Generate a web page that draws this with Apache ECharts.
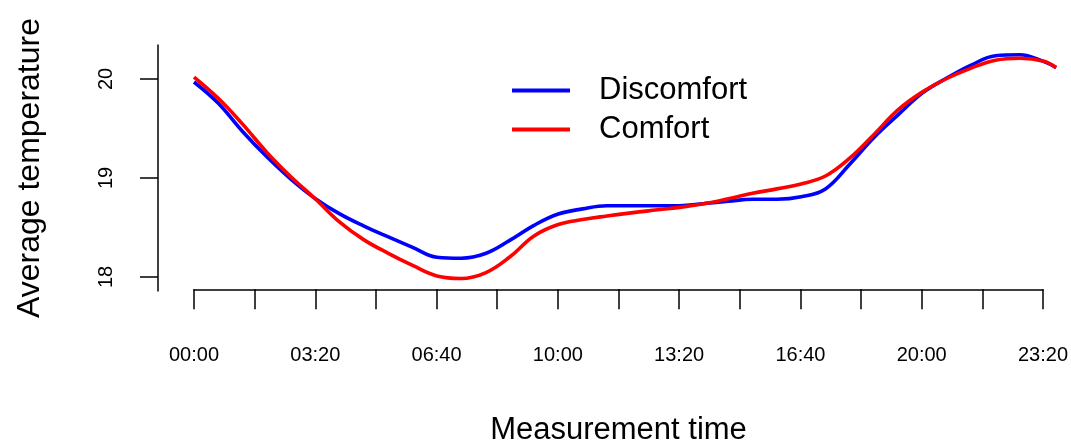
<!DOCTYPE html>
<html>
<head>
<meta charset="utf-8">
<script src="https://cdn.jsdelivr.net/npm/echarts@6/dist/echarts.min.js"></script>
<style>
  html, body { margin: 0; padding: 0; background: #fff; }
  #chart { width: 1071px; height: 445px; }
</style>
</head>
<body>
<div id="chart"></div>
<script>
// minutes since midnight
const times = [0, 40, 80, 120, 160, 200, 240, 280, 320, 360, 400, 440, 480, 520, 560, 600,
  640, 680, 720, 760, 800, 840, 880, 920, 960, 1000, 1040, 1080, 1120, 1160, 1200, 1240,
  1280, 1320, 1360, 1400, 1420]

const discomfort = [19.97, 19.755, 19.47, 19.214, 18.986, 18.791, 18.637, 18.514, 18.405, 18.30,
  18.20, 18.19, 18.237, 18.37, 18.522, 18.636, 18.688, 18.72, 18.72, 18.72, 18.72, 18.742,
  18.765, 18.785, 18.785, 18.81, 18.89, 19.14, 19.41, 19.64, 19.86, 20.01, 20.14, 20.235,
  20.245, 20.175, 20.115]

const comfort = [20.02, 19.805, 19.544, 19.259, 19.01, 18.788, 18.554, 18.375, 18.239, 18.117,
  18.01, 17.985, 18.042, 18.202, 18.415, 18.53, 18.58, 18.616, 18.648, 18.676, 18.703, 18.74,
  18.79, 18.845, 18.89, 18.94, 19.02, 19.20, 19.44, 19.69, 19.87, 20.005, 20.11, 20.19,
  20.21, 20.18, 20.115]

const xTicks = [0, 100, 200, 300, 400, 500, 600, 700, 800, 900, 1000, 1100, 1200, 1300, 1400]
const xLabels = [0, 200, 400, 600, 800, 1000, 1200, 1400]
const yTicks = [18, 19, 20]

const FONT = 'Liberation Sans, Arial, sans-serif'

function hhmm(m) {
  const h = Math.floor(m / 60)
  const mm = m % 60
  return String(h).padStart(2, '0') + ':' + String(mm).padStart(2, '0')
}

function pairs(vals) {
  return times.map((t, i) => [t, vals[i]])
}

// px per minute taken from the tick axis (850px for 1400 min)
const pxPerMin = 850 / 1400

const chart = echarts.init(document.getElementById('chart'))
chart.setOption({
  animation: false,
  textStyle: { fontFamily: FONT },
  legend: {
    orient: 'vertical',
    left: 507,
    top: 70,
    itemWidth: 58,
    itemHeight: 4,
    itemGap: 8,
    icon: 'rect',
    textStyle: { fontSize: 31, color: '#000', fontFamily: FONT, padding: [0, 0, 0, 24] },
    data: ['Discomfort', 'Comfort']
  },
  grid: [
    { left: 158, top: 45, width: 913, height: 246 },
    { left: 194, top: 289, width: 850, height: 1 }
  ],
  xAxis: [
    {
      gridIndex: 0,
      type: 'value',
      min: -36 / pxPerMin,
      max: 1400 + 27 / pxPerMin,
      show: false
    },
    {
      gridIndex: 1,
      type: 'value',
      min: 0,
      max: 1400,
      interval: 100,
      splitLine: { show: false },
      axisLine: { onZero: false, lineStyle: { color: '#000', width: 1.5 } },
      axisTick: { length: 20, lineStyle: { color: '#000', width: 1.5 }, customValues: xTicks },
      axisLabel: {
        customValues: xLabels,
        formatter: (v) => hhmm(v),
        fontSize: 20,
        color: '#000',
        margin: 56,
        fontFamily: FONT
      },
      name: 'Measurement time',
      nameLocation: 'middle',
      nameGap: 126,
      nameTextStyle: { fontSize: 31, color: '#000', fontFamily: FONT }
    }
  ],
  yAxis: [
    {
      gridIndex: 0,
      type: 'value',
      min: 18 - 14 / 99,
      max: 20 + 34 / 99,
      splitLine: { show: false },
      axisLine: { show: true, onZero: false, lineStyle: { color: '#000', width: 1.5 } },
      axisTick: { show: true, length: 18, lineStyle: { color: '#000', width: 1.5 }, customValues: yTicks },
      axisLabel: {
        customValues: yTicks,
        rotate: 90,
        fontSize: 20,
        color: '#000',
        margin: 42,
        fontFamily: FONT
      },
      name: 'Average temperature',
      nameLocation: 'middle',
      nameRotate: 90,
      nameGap: 112,
      nameTextStyle: { fontSize: 32, color: '#000', fontFamily: FONT }
    },
    { gridIndex: 1, type: 'value', min: 0, max: 1, show: false }
  ],
  series: [
    {
      name: 'Discomfort',
      type: 'line',
      xAxisIndex: 0,
      yAxisIndex: 0,
      data: pairs(discomfort),
      smooth: 0.4,
      showSymbol: false,
      symbol: 'none',
      color: '#0000ff',
      lineStyle: { color: '#0000ff', width: 3.6 }
    },
    {
      name: 'Comfort',
      type: 'line',
      xAxisIndex: 0,
      yAxisIndex: 0,
      data: pairs(comfort),
      smooth: 0.4,
      showSymbol: false,
      symbol: 'none',
      color: '#ff0000',
      lineStyle: { color: '#ff0000', width: 3.6 }
    }
  ]
})
</script>
</body>
</html>
